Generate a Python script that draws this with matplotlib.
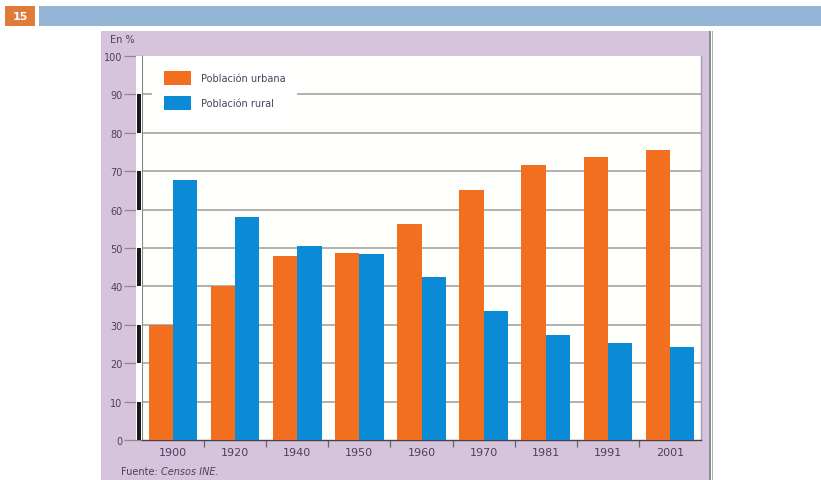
import matplotlib
matplotlib.use("Agg")
import matplotlib.pyplot as plt
from matplotlib.patches import Rectangle, Patch
import matplotlib.transforms as mtransforms
import numpy as np

years = ["1900", "1920", "1940", "1950", "1960", "1970", "1981", "1991", "2001"]
urbana = [30.0, 40.0, 48.0, 48.6, 56.3, 65.0, 71.6, 73.7, 75.4]
rural = [67.8, 58.1, 50.4, 48.4, 42.5, 33.5, 27.4, 25.3, 24.1]
y_ticks = [0, 10, 20, 30, 40, 50, 60, 70, 80, 90, 100]
labels = ["Población urbana", "Población rural"]

W, H = 821, 481
fig = plt.figure(figsize=(W / 100, H / 100), dpi=100)
fig.patch.set_facecolor("white")


def fx(px):
    return px / W


def fy(py):
    return 1 - py / H


def frect(x0, y0, x1, y1, **kw):
    r = Rectangle((fx(x0), fy(y1)), fx(x1) - fx(x0), fy(y0) - fy(y1),
                  transform=fig.transFigure, zorder=-5, **kw)
    fig.patches.append(r)
    return r


txt_col = "#4d3f5c"
orange = "#f26f1f"
blue = "#0b8bd5"
purple = "#d6c4dd"

# header
frect(5, 7, 35, 27, facecolor="#e07b39", edgecolor="none")
fig.text(fx(20), fy(17), "15", color="white", fontsize=8, fontweight="bold",
         ha="center", va="center")
frect(39, 7, 821, 27, facecolor="#94b5d4", edgecolor="none")

# purple panel
frect(101, 32, 709, 481, facecolor=purple, edgecolor="none")
frect(709, 32, 710.5, 481, facecolor="#8c8c8c", edgecolor="none")
frect(711.5, 32, 712.5, 481, facecolor="#b0b0b0", edgecolor="none")

# axes
L, R, T, B = 142, 701, 57, 441
ax = fig.add_axes([fx(L), fy(B), fx(R) - fx(L), fy(T) - fy(B)])
ax.set_zorder(2)
ax.set_facecolor("#fffffb")

x = np.arange(len(years))
w = 0.39
b1 = ax.bar(x - w / 2, urbana, width=w, color=orange, label=labels[0], zorder=3)
b2 = ax.bar(x + w / 2, rural, width=w, color=blue, label=labels[1], zorder=3)

ax.set_xlim(-0.5, len(years) - 0.5)
ax.set_ylim(0, 100)

for v in y_ticks[1:-1]:
    ax.axhline(v, color="#9c9c9c", lw=1.1, zorder=1)

ax.set_yticks(y_ticks)
ax.set_yticklabels([str(v) for v in y_ticks])
ax.tick_params(axis="y", length=13, width=0.9, color="#8a8a8a", pad=1,
               labelsize=7, labelcolor=txt_col, direction="out")

ax.set_xticks(np.arange(len(years) - 1) + 0.5)
ax.set_xticklabels([])
ax.set_xticks(x, minor=True)
ax.set_xticklabels(years, minor=True)
ax.tick_params(axis="x", which="major", length=5, width=0.9, color="#666666",
               direction="out")
ax.tick_params(axis="x", which="minor", length=0, pad=5, labelsize=8,
               labelcolor=txt_col)

for s in ["top"]:
    ax.spines[s].set_visible(False)
ax.spines["left"].set_color("#888888")
ax.spines["left"].set_linewidth(0.8)
ax.spines["right"].set_color("#a898b2")
ax.spines["right"].set_linewidth(1.0)
ax.spines["bottom"].set_color("#444444")
ax.spines["bottom"].set_linewidth(1.0)

# left striped strip (white with black segments)
trans = mtransforms.blended_transform_factory(ax.transAxes, ax.transData)
sw = 6 / (R - L)
ax.add_patch(Rectangle((-sw, 0), sw, 100, transform=trans, facecolor="white",
                       edgecolor="none", clip_on=False, zorder=4))
for v in range(0, 100, 20):
    ax.add_patch(Rectangle((-5 / (R - L), v), 4 / (R - L), 10, transform=trans,
                           facecolor="#1a1a1a", edgecolor="none", clip_on=False,
                           zorder=5))

leg = ax.legend(handles=[b1, b2], loc="upper left",
                bbox_to_anchor=(10 / (R - L), 1 - 3 / (B - T)),
                borderaxespad=0, frameon=True, fancybox=False, framealpha=1,
                facecolor="white", edgecolor="none", fontsize=7,
                handlelength=2.8, handleheight=1.9, handletextpad=1.0,
                labelspacing=1.1, borderpad=1.2)
for t in leg.get_texts():
    t.set_color(txt_col)
leg.set_zorder(6)

fig.text(fx(110), fy(40), "En %", fontsize=7, color=txt_col, ha="left",
         va="center")
t1 = fig.text(fx(121), fy(472), "Fuente: ", fontsize=7, color=txt_col,
              ha="left", va="center")
fig.canvas.draw()
bb = t1.get_window_extent()
fig.text(bb.x1 / W, fy(472), "Censos INE.", fontsize=7, color=txt_col,
         ha="left", va="center", style="italic")

fig.savefig("out.png", dpi=100)
